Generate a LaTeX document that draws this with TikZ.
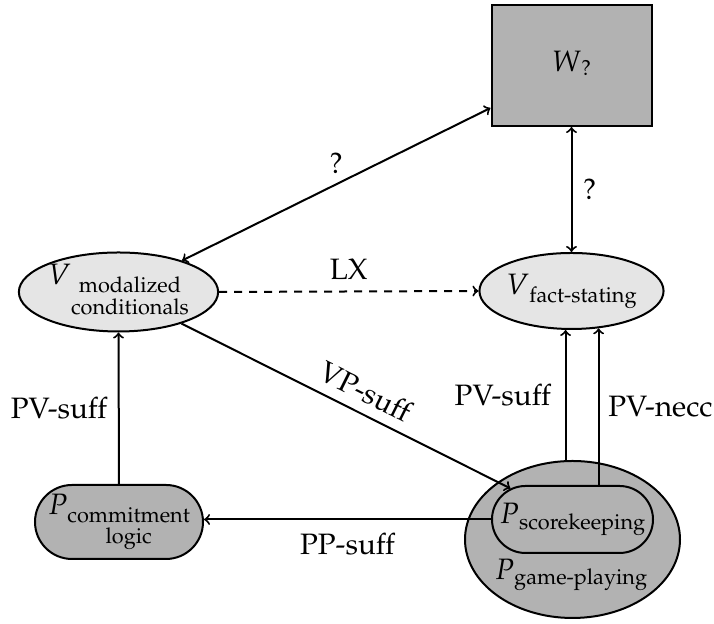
\documentclass[tikz,border=0pt]{standalone}
\usepackage[T1]{fontenc}
\usepackage{mathpazo}
\usetikzlibrary{shapes.geometric,shapes.misc,calc}
\newcommand\sbf{\fontsize{10.85}{9}\selectfont}
\newcommand\Sub[3][4pt]{$#2$\raisebox{-#1}{\sbf\begin{tabular}[t]{@{}c@{}}#3\end{tabular}}}
\begin{document}
\begin{tikzpicture}[x=0.5pt,y=0.5pt,
  font=\fontsize{14.75}{17}\selectfont, line width=1pt,
  lightell/.style={ellipse, draw, fill=black!10, inner sep=0pt},
  darkell/.style={ellipse, draw, fill=black!30, inner sep=0pt},
  pill/.style={rounded rectangle, draw, fill=black!30, inner sep=0pt},
  box/.style={rectangle, draw, fill=black!30, inner sep=0pt},
  arr/.style={->},
  darr/.style={<->},
  dsh/.style={->, dash pattern=on 4pt off 3.5pt}]
\useasboundingbox (0,0) rectangle (714,624);

\node[box, minimum width=80pt, minimum height=60.5pt] (W) at (571.5,558.5) {\Sub[2pt]{W}{?}};
\node[lightell, minimum width=99.5pt, minimum height=39.5pt] (Vm) at (118.5,332) {\Sub{V}{modalized\\conditionals}};
\node[lightell, minimum width=91pt, minimum height=38pt] (Vf) at (571.5,333) {\Sub{V}{fact-stating}};
\node[pill, minimum width=84pt, minimum height=37pt] (Pc) at (119,102) {\makebox[20pt]{\Sub{P}{commitment\\logic}}};
\node[darkell, minimum width=107.5pt, minimum height=78.5pt] (Pg) at (572.5,84.5) {};
\node[pill, minimum width=80.5pt, minimum height=33.5pt] (Ps) at (572.5,104.5) {\makebox[20pt]{\Sub[3pt]{P}{scorekeeping}}};
\node (Pgl) at (571,49) {\Sub[2.5pt]{P}{game-playing}};

\draw[darr] ($(W.south west)+(0,9.5pt)$) -- (Vm) node[midway, above=1.5pt] (l1) {?};
\draw[darr] (W.south) -- (Vf.north) node[midway, right=2pt] (l2) {?};
\draw[dsh] (Vm.east) -- (Vf.west) node[midway, above=2pt] (l3) {LX};
\draw[arr] (Vm) -- (Ps) node[pos=0.53, sloped, above=1.5pt] (l4) {VP-suff};
\draw[arr] (Pc.north) -- (Vm.south) node[midway, left=2pt] (l5) {PV-suff};
\draw[arr] (Ps.west) -- (Ps.west -| Pc.east) node[midway, below=3pt] (l6) {PP-suff};
\draw[arr] (Pg.95) -- (Pg.95 |- Vf.south) node[midway, left=3.5pt] (l7) {PV-suff};
\draw[arr] (Ps.north -| Vf.-54) -- (Vf.-54) node[midway, right=1pt] (l8) {PV-necc};
\end{tikzpicture}
\end{document}
